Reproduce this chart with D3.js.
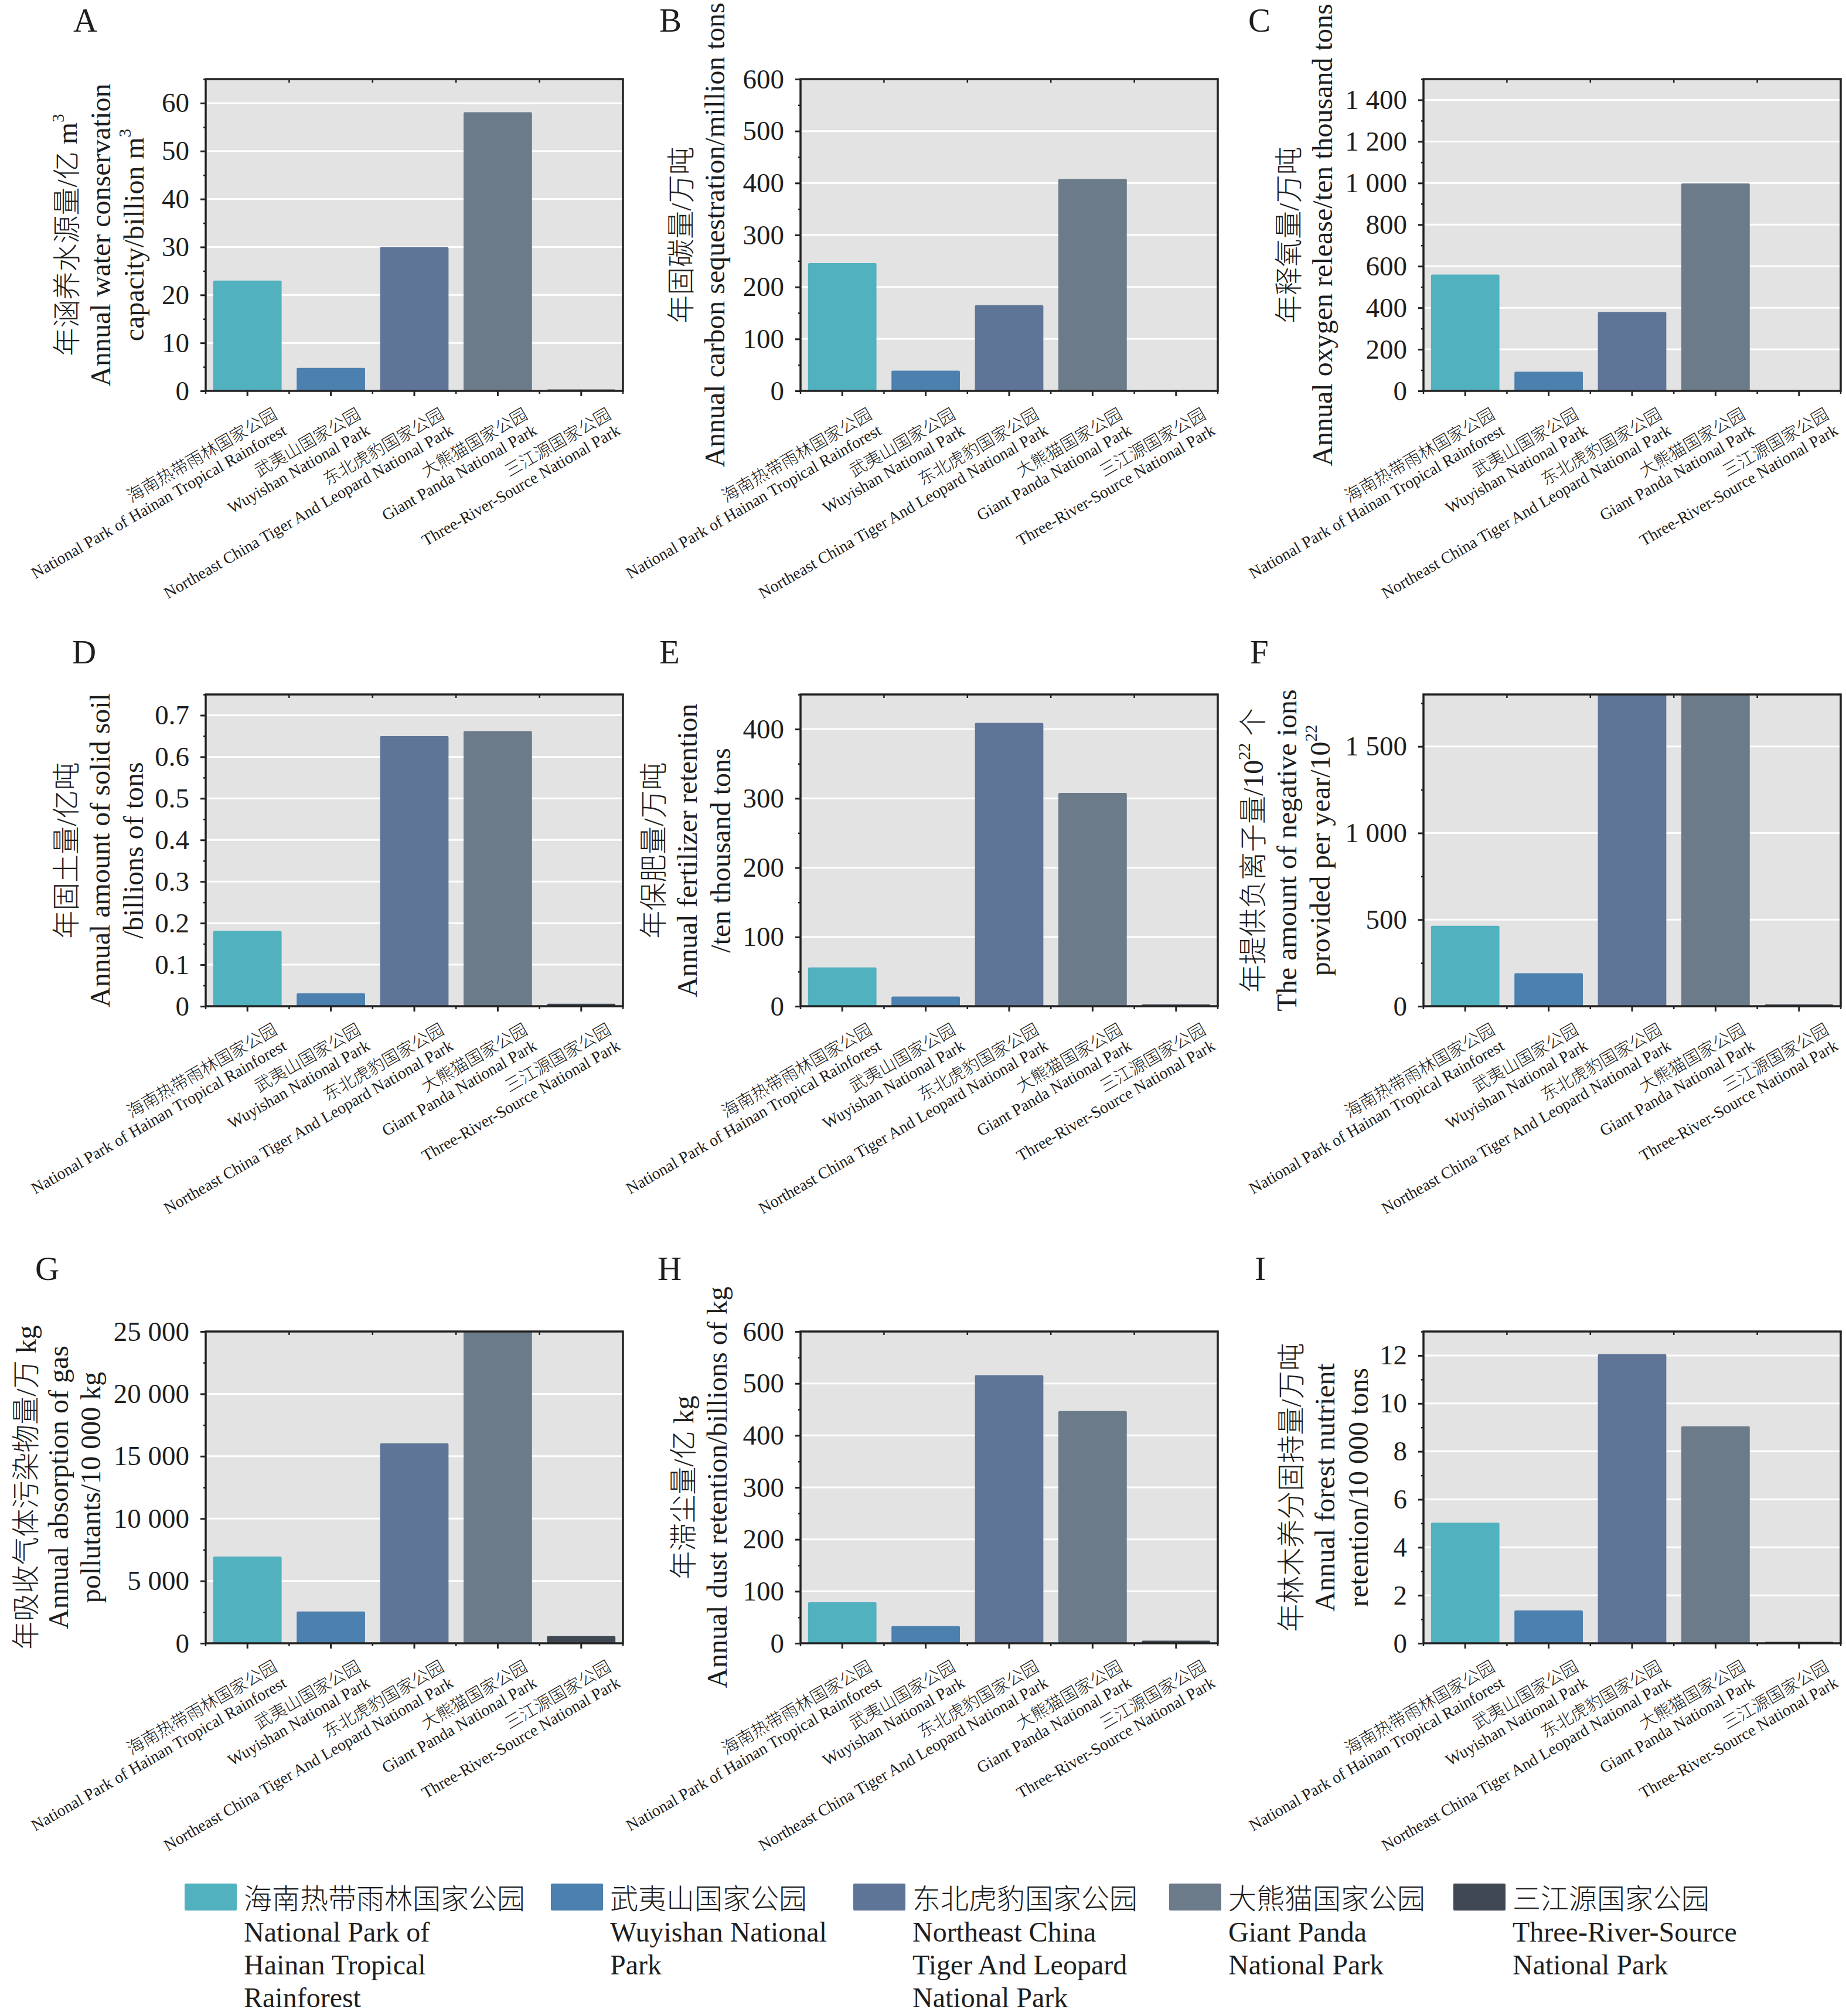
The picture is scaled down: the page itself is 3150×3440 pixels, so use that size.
<!DOCTYPE html>
<html lang="zh-CN">
<head>
<meta charset="utf-8">
<script src="https://cdn.jsdelivr.net/npm/d3@7"></script>
<style>
  body { margin: 0; background: #fff; }
</style>
</head>
<body>
<div id="figure"></div>
<script>
// categories
const parksZh = ["海南热带雨林国家公园", "武夷山国家公园", "东北虎豹国家公园", "大熊猫国家公园", "三江源国家公园"]
const parksEn = ["National Park of Hainan Tropical Rainforest", "Wuyishan National Park",
  "Northeast China Tiger And Leopard National Park", "Giant Panda National Park", "Three-River-Source National Park"]
const legendLines = [
  ["National Park of", "Hainan Tropical", "Rainforest"],
  ["Wuyishan National", "Park"],
  ["Northeast China", "Tiger And Leopard", "National Park"],
  ["Giant Panda", "National Park"],
  ["Three-River-Source", "National Park"]
]
const parkColors = ["#51b1bf", "#4b80af", "#5f7597", "#6b7b8a", "#404853"]

// series values
const waterConservation = [23.0, 4.8, 30.0, 58.1, 0.3]
const carbonSequestration = [246, 39, 165, 408, 1.4]
const oxygenRelease = [560, 92, 380, 998, 2]
const soilRetention = [0.181, 0.031, 0.650, 0.662, 0.006]
const fertilizerRetention = [56, 14, 409, 308, 2.7]
const negativeIons = [464, 190, 1800, 1800, 11]
const gasAbsorption = [6950, 2550, 16040, 25000, 570]
const dustRetention = [79, 33, 516, 447, 5]
const nutrientRetention = [5.03, 1.37, 12.06, 9.05, 0.06]

// axis extents and tick steps
const yMax = [65, 600, 1500, 0.75, 450, 1800, 25000, 600, 13]
const yStep = [10, 100, 200, 0.1, 100, 500, 5000, 100, 2]

// axis titles, ^{..} marks a superscript
const yTitles = [
  ["年涵养水源量/亿 m^{3}", "Annual water conservation", "capacity/billion m^{3}"],
  ["年固碳量/万吨", "Annual carbon sequestration/million tons"],
  ["年释氧量/万吨", "Annual oxygen release/ten thousand tons"],
  ["年固土量/亿吨", "Annual amount of solid soil", "/billions of tons"],
  ["年保肥量/万吨", "Annual fertilizer retention", "/ten thousand tons"],
  ["年提供负离子量/10^{22} 个", "The amount of negative ions", "provided per year/10^{22}"],
  ["年吸收气体污染物量/万 kg", "Annual absorption of gas", "pollutants/10 000 kg"],
  ["年滞尘量/亿 kg", "Annual dust retention/billions of kg"],
  ["年林木养分固持量/万吨", "Annual forest nutrient", "retention/10 000 tons"]
]
const panelLetters = ["A", "B", "C", "D", "E", "F", "G", "H", "I"]
const series = [waterConservation, carbonSequestration, oxygenRelease, soilRetention,
  fertilizerRetention, negativeIons, gasAbsorption, dustRetention, nutrientRetention]

// layout
const W = 3150, H = 3440
const colLeft = [351, 1366, 2429]
const rowTop = [135, 1185, 2272]
const plotW = 712, plotH = 532
const letterX = [125, 1125, 2130, 123, 1125, 2133, 60, 1122, 2141]
const letterY = [54, 1132, 2184]
// baseline of the last title line, measured from the left axis
const titleLast = [-106, -130, -156, -107, -120, -160, -180, -126, -95]
const titleGap = [57, 57, 57, 57, 57, 57, 55, 57, 57]
const legendX = [315, 940, 1456, 1995, 2480]

const serif = "'Liberation Serif', 'Times New Roman', serif"
const cjk = "'Noto Sans CJK SC', 'Noto Sans CJK TC', sans-serif"
const ink = "#1e1e1e"
const fmt = d3.formatLocale({decimal: ".", thousands: " ", grouping: [3], currency: ["", ""]}).format(",~g")

const svg = d3.select("#figure").append("svg")
  .attr("width", W)
  .attr("height", H)
  .attr("font-family", serif)
  .attr("fill", ink)

// appends text runs, putting Chinese runs in the CJK font
function addRuns(sel, str) {
  const runs = str.match(/[\u3400-\u9fff\uff00-\uffef]+|[^\u3400-\u9fff\uff00-\uffef]+/g) || []
  return runs.map(run => {
    const t = sel.append("tspan").text(run)
    if (/[\u3400-\u9fff]/.test(run)) t.attr("font-family", cjk).attr("font-weight", 300)
    return t
  })
}

function richText(sel, str) {
  const parts = str.split(/\^\{(.*?)\}/)
  let raised = false
  parts.forEach((part, k) => {
    if (!part) return
    if (k % 2 == 1) {
      sel.append("tspan").text(part)
        .attr("font-size", "0.6em")
        .attr("dy", "-0.75em")
      raised = true
    } else {
      const ts = addRuns(sel, part)
      if (raised && ts.length) ts[0].attr("dy", "0.45em")
      raised = false
    }
  })
}

function drawPanel(i) {
  const left = colLeft[i % 3]
  const top = rowTop[Math.floor(i / 3)]
  const bottom = top + plotH
  const values = series[i]

  const x = d3.scaleBand(d3.range(values.length), [left, left + plotW])
    .paddingInner(0.18)
    .paddingOuter(0.09)
  const y = d3.scaleLinear([0, yMax[i]], [bottom, top]).clamp(true)

  const major = d3.range(0, yMax[i] + 1e-9, yStep[i])
  const minor = d3.range(0, yMax[i] + 1e-9, yStep[i] / 2)
    .filter(v => Math.abs(v / yStep[i] - Math.round(v / yStep[i])) > 1e-6)
  const bounds = d3.range(values.length + 1).map(k => left + k * x.step())

  const g = svg.append("g")

  g.append("rect")
    .attr("x", left).attr("y", top)
    .attr("width", plotW).attr("height", plotH)
    .attr("fill", "#e3e3e3")

  g.append("g")
    .attr("stroke", "#fff")
    .attr("stroke-width", 3)
    .selectAll("line")
    .data(major.filter(v => v > 0))
    .join("line")
      .attr("x1", left).attr("x2", left + plotW)
      .attr("y1", d => y(d)).attr("y2", d => y(d))

  g.append("g")
    .selectAll("rect")
    .data(values)
    .join("rect")
      .attr("x", (d, k) => x(k))
      .attr("y", d => y(d))
      .attr("width", x.bandwidth())
      .attr("height", d => y(0) - y(d))
      .attr("rx", 2)
      .attr("fill", (d, k) => parkColors[k])

  g.append("rect")
    .attr("x", left).attr("y", top)
    .attr("width", plotW).attr("height", plotH)
    .attr("fill", "none")
    .attr("stroke", "#222")
    .attr("stroke-width", 3.5)

  // left axis, major and minor
  g.append("g")
    .attr("transform", `translate(${left},0)`)
    .call(d3.axisLeft(y).tickValues(major).tickSize(9).tickPadding(19).tickFormat(fmt))
    .call(a => a.select(".domain").remove())
    .call(a => a.selectAll("line").attr("stroke", "#222").attr("stroke-width", 3))
    .call(a => a.selectAll("text")
      .attr("fill", ink)
      .attr("font-family", serif)
      .attr("font-size", 47))
  g.append("g")
    .attr("transform", `translate(${left},0)`)
    .call(d3.axisLeft(y).tickValues(minor).tickSize(4).tickFormat(""))
    .call(a => a.select(".domain").remove())
    .call(a => a.selectAll("line").attr("stroke", "#222").attr("stroke-width", 2.5))

  // bottom ticks at the category centres
  g.append("g")
    .attr("stroke", "#222")
    .attr("stroke-width", 3)
    .selectAll("line")
    .data(values)
    .join("line")
      .attr("x1", (d, k) => x(k) + x.bandwidth() / 2)
      .attr("x2", (d, k) => x(k) + x.bandwidth() / 2)
      .attr("y1", bottom).attr("y2", bottom + 9)

  // small ticks at the band boundaries, down at the bottom and in at the top
  g.append("g")
    .attr("stroke", "#222")
    .attr("stroke-width", 2.5)
    .call(s => s.selectAll(".bt")
      .data(bounds)
      .join("line")
        .attr("class", "bt")
        .attr("x1", d => d).attr("x2", d => d)
        .attr("y1", bottom).attr("y2", bottom + 5))
    .call(s => s.selectAll(".tt")
      .data(bounds.slice(1, -1))
      .join("line")
        .attr("class", "tt")
        .attr("x1", d => d).attr("x2", d => d)
        .attr("y1", top).attr("y2", top + 6))

  // rotated category labels
  const labels = g.append("g")
    .selectAll("text")
    .data(d3.range(values.length))
    .join("text")
      .attr("transform", k => `translate(${x(k) + x.bandwidth() / 2 + 53},${bottom + 46}) rotate(-30)`)
      .attr("text-anchor", "end")
  labels.append("tspan")
    .attr("x", 0).attr("y", 0)
    .attr("font-family", cjk)
    .attr("font-weight", 300)
    .attr("font-size", 29)
    .text(k => parksZh[k])
  labels.append("tspan")
    .attr("x", 0).attr("y", 31)
    .attr("font-size", 28)
    .text(k => parksEn[k])

  // y axis title
  const lines = yTitles[i]
  const cy = (top + bottom) / 2
  lines.forEach((line, k) => {
    const bx = left + titleLast[i] - (lines.length - 1 - k) * titleGap[i]
    g.append("text")
      .attr("transform", `translate(${bx},${cy}) rotate(-90)`)
      .attr("text-anchor", "middle")
      .attr("font-size", 48)
      .call(t => richText(t, line))
  })

  // panel letter
  svg.append("text")
    .attr("x", letterX[i])
    .attr("y", letterY[Math.floor(i / 3)])
    .attr("font-size", 57)
    .text(panelLetters[i])
}

d3.range(9).forEach(drawPanel)

// legend
const legend = svg.append("g")
  .selectAll("g")
  .data(parksZh)
  .join("g")
    .attr("transform", (d, k) => `translate(${legendX[k]},3214)`)
legend.append("rect")
  .attr("width", 89).attr("height", 46)
  .attr("rx", 2)
  .attr("fill", (d, k) => parkColors[k])
legend.append("text")
  .attr("x", 101).attr("y", 43)
  .attr("font-family", cjk)
  .attr("font-weight", 300)
  .attr("font-size", 48)
  .text(d => d)
legend.each(function(d, k) {
  d3.select(this).selectAll(".en")
    .data(legendLines[k])
    .join("text")
      .attr("class", "en")
      .attr("x", 101)
      .attr("y", (s, j) => 99 + j * 56)
      .attr("font-size", 48)
      .text(s => s)
})
</script>
</body>
</html>
